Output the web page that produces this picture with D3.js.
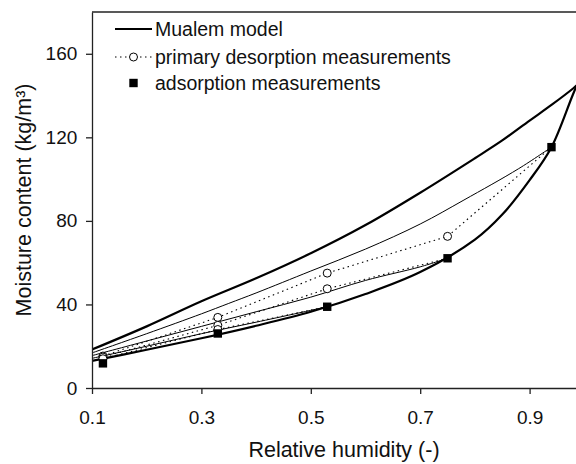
<!DOCTYPE html>
<html>
<head>
<meta charset="utf-8">
<script src="https://cdn.jsdelivr.net/npm/d3@7"></script>
<style>
  body { margin: 0; background: #fff; }
  svg { display: block; font-family: "Liberation Sans", Arial, sans-serif; }
</style>
</head>
<body>
<svg id="chart"></svg>
<script>
// model curves (Mualem), main loops
const rhMain = [0.1, 0.2, 0.3, 0.4, 0.5, 0.6, 0.7, 0.8, 0.85, 0.9, 0.94, 0.98, 1.0];
const mainDesorption = [18.4, 29.5, 41.5, 52.5, 64.5, 78, 93.5, 110, 118.5, 128, 135.5, 143.5, 148];
const mainAdsorption = [13, 18.3, 23.8, 29.8, 36.5, 45, 55.5, 71, 83, 99.5, 115.3, 141, 153];

// scanning desorption curves (model)
const rhScan94 = [0.1, 0.2, 0.3, 0.35, 0.4, 0.5, 0.6, 0.7, 0.78, 0.88, 0.94];
const scan94 = [16.8, 26, 35.5, 40.5, 45.5, 56, 66.5, 78.5, 90, 105, 115.3];
const rhScan75 = [0.1, 0.2, 0.3, 0.4, 0.5, 0.6, 0.7, 0.75];
const scan75 = [15.5, 22.5, 29.5, 36.5, 43.5, 51.5, 58, 62.1];
const rhScan53 = [0.1, 0.2, 0.3, 0.4, 0.53];
const scan53 = [14.2, 20, 26, 31.5, 38.9];

// primary desorption measurements (from each turning point)
const rhDes94 = [0.94, 0.75, 0.53, 0.33, 0.12];
const des94 = [115.3, 72.6, 55, 33.8, 15.3];
const rhDes75 = [0.75, 0.53, 0.33, 0.12];
const des75 = [62.1, 47.5, 30, 14.8];
const rhDes53 = [0.53, 0.33, 0.12];
const des53 = [38.9, 28, 14];

// adsorption measurements
const rhAds = [0.12, 0.33, 0.53, 0.75, 0.94];
const ads = [11.8, 26.1, 38.9, 62.1, 115.3];

const xTicks = [0.1, 0.3, 0.5, 0.7, 0.9];
const yTicks = [0, 40, 80, 120, 160];

const W = 576, H = 464;
const margin = { top: 12, left: 92, bottom: 76 };
const plotW = 492.3, plotH = H - margin.top - margin.bottom;

const svg = d3.select("#chart").attr("width", W).attr("height", H);

const x = d3.scaleLinear().domain([0.1, 1.0]).range([margin.left, margin.left + plotW]);
const y = d3.scaleLinear().domain([0, 180]).range([H - margin.bottom, margin.top]);

const zip = (xs, ys) => xs.map((v, i) => [v, ys[i]]);

svg.append("clipPath").attr("id", "clip")
  .append("rect")
  .attr("x", margin.left).attr("y", margin.top)
  .attr("width", plotW).attr("height", plotH);

const plot = svg.append("g").attr("clip-path", "url(#clip)");

const smooth = d3.line().x(d => x(d[0])).y(d => y(d[1])).curve(d3.curveCatmullRom.alpha(0.5));
const straight = d3.line().x(d => x(d[0])).y(d => y(d[1]));

// sort ascending before drawing the smooth curves
const asc = arr => arr.slice().sort((a, b) => a[0] - b[0]);

// thin scanning curves
[[rhScan94, scan94], [rhScan75, scan75], [rhScan53, scan53]].forEach(([xs, ys]) => {
  plot.append("path")
    .attr("d", smooth(asc(zip(xs, ys))))
    .attr("fill", "none")
    .attr("stroke", "#000")
    .attr("stroke-width", 1);
});

// dotted measurement lines
[[rhDes94, des94], [rhDes75, des75], [rhDes53, des53]].forEach(([xs, ys]) => {
  plot.append("path")
    .attr("d", straight(zip(xs, ys)))
    .attr("fill", "none")
    .attr("stroke", "#000")
    .attr("stroke-width", 1.1)
    .attr("stroke-dasharray", "1.5,3.5");
});

// thick main curves
[[rhMain, mainDesorption], [rhMain, mainAdsorption]].forEach(([xs, ys]) => {
  plot.append("path")
    .attr("d", smooth(zip(xs, ys)))
    .attr("fill", "none")
    .attr("stroke", "#000")
    .attr("stroke-width", 2.2);
});

// circles: desorption measurements (turning points are drawn as adsorption squares)
const circ = [
  ...zip(rhDes94, des94).slice(1),
  ...zip(rhDes75, des75).slice(1),
  ...zip(rhDes53, des53).slice(1)
];
plot.selectAll(".circ").data(circ).join("circle")
  .attr("cx", d => x(d[0])).attr("cy", d => y(d[1])).attr("r", 4)
  .attr("fill", "#fff").attr("stroke", "#000").attr("stroke-width", 1);

// squares: adsorption measurements
plot.selectAll(".sq").data(zip(rhAds, ads)).join("rect")
  .attr("x", d => x(d[0]) - 4.2).attr("y", d => y(d[1]) - 4.2)
  .attr("width", 8.4).attr("height", 8.4)
  .attr("fill", "#000");

// axes
const axisColor = "#222";
const xAxis = svg.append("g")
  .attr("transform", `translate(0,${H - margin.bottom})`)
  .call(d3.axisBottom(x).tickValues(xTicks).tickFormat(d3.format(".1f")).tickSize(6).tickSizeOuter(0));
const yAxis = svg.append("g")
  .attr("transform", `translate(${margin.left},0)`)
  .call(d3.axisLeft(y).tickValues(yTicks).tickSize(6).tickSizeOuter(0));

[xAxis, yAxis].forEach(g => {
  g.select(".domain").attr("stroke", axisColor).attr("stroke-width", 1.3);
  g.selectAll(".tick line").attr("stroke", axisColor).attr("stroke-width", 1.3);
  g.selectAll(".tick text").attr("fill", "#111")
    .style("font-size", "19px").style("font-family", "Liberation Sans, Arial, sans-serif");
});
xAxis.selectAll(".tick text").attr("dy", "1.42em");
yAxis.selectAll(".tick text").attr("dx", "-0.3em");

// top frame line
svg.append("line")
  .attr("x1", margin.left).attr("x2", W)
  .attr("y1", margin.top).attr("y2", margin.top)
  .attr("stroke", axisColor).attr("stroke-width", 1.3);

// axis labels
svg.append("text")
  .attr("x", margin.left + 252).attr("y", 457)
  .attr("text-anchor", "middle")
  .style("font-size", "21.5px").attr("fill", "#111")
  .text("Relative humidity (-)");

svg.append("text")
  .attr("transform", `translate(31,${margin.top + plotH / 2}) rotate(-90)`)
  .attr("text-anchor", "middle")
  .style("font-size", "21.5px").attr("fill", "#111")
  .text("Moisture content (kg/m³)");

// legend
const legend = svg.append("g").style("font-size", "19.5px").attr("fill", "#111");
const lx0 = 115, lx1 = 152, tx = 155;
const rows = [29, 57, 83];

legend.append("line").attr("x1", lx0).attr("x2", lx1).attr("y1", rows[0]).attr("y2", rows[0])
  .attr("stroke", "#000").attr("stroke-width", 2.2);
legend.append("line").attr("x1", lx0).attr("x2", lx1).attr("y1", rows[1]).attr("y2", rows[1])
  .attr("stroke", "#000").attr("stroke-width", 1.1).attr("stroke-dasharray", "1.5,3.5");
legend.append("circle").attr("cx", (lx0 + lx1) / 2).attr("cy", rows[1]).attr("r", 4)
  .attr("fill", "#fff").attr("stroke", "#000");
legend.append("rect").attr("x", (lx0 + lx1) / 2 - 4.2).attr("y", rows[2] - 4.2)
  .attr("width", 8.4).attr("height", 8.4).attr("fill", "#000");

["Mualem model", "primary desorption measurements", "adsorption measurements"].forEach((t, i) => {
  legend.append("text").attr("x", tx).attr("y", rows[i]).attr("dy", "0.35em").text(t);
});
</script>
</body>
</html>
